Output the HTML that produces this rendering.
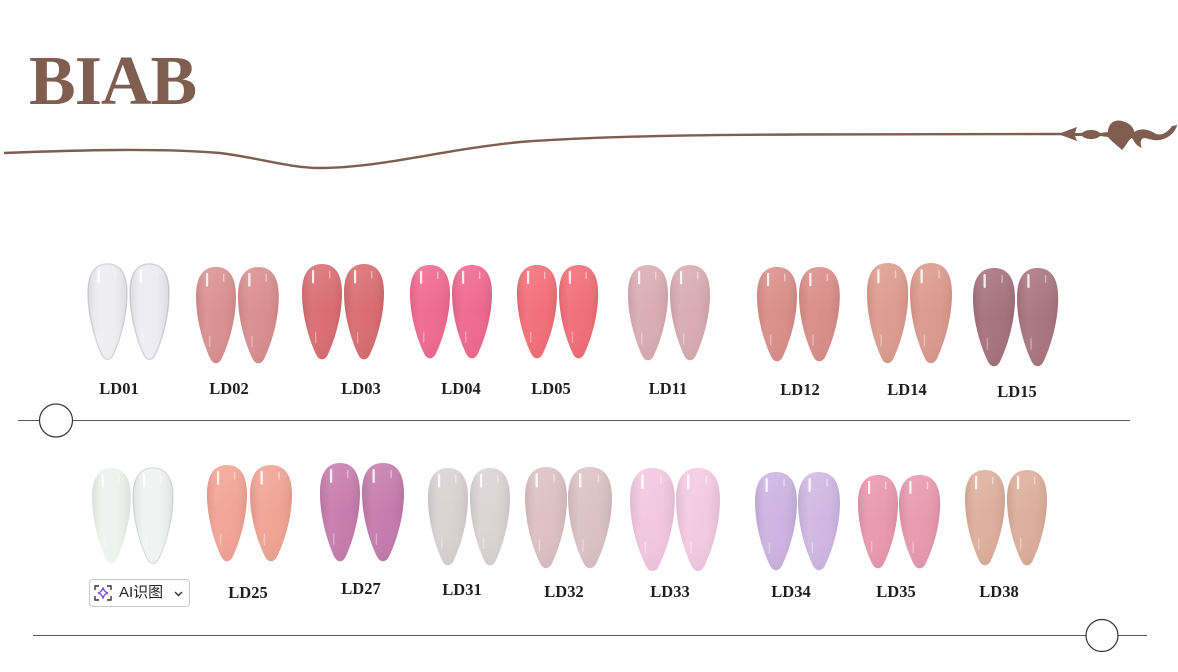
<!DOCTYPE html>
<html><head><meta charset="utf-8"><style>
html,body{margin:0;padding:0;background:#fff;}
body{width:1178px;height:672px;position:relative;overflow:hidden;}
svg{position:absolute;left:0;top:0;}
.btn{position:absolute;left:89px;top:579px;width:101px;height:28px;border:1px solid #c9c9c9;border-radius:4px;background:#fff;box-sizing:border-box;font-family:"Liberation Sans","Noto Sans CJK SC",sans-serif;font-size:15px;color:#222;}
.btn span{position:absolute;left:29px;top:4px;line-height:18px;}
</style></head><body>
<svg width="1178" height="672" viewBox="0 0 1178 672" xmlns="http://www.w3.org/2000/svg">
<defs>
<path id="np" d="M20,0 C33,0 40,10 40,30 C40,55 32,80 26,93 C23,100 17,100 14,93 C8,80 0,55 0,30 C0,10 7,0 20,0 Z"/>
<linearGradient id="sh" x1="0" y1="0" x2="1" y2="0">
<stop offset="0" stop-color="#000" stop-opacity="0.08"/>
<stop offset="0.25" stop-color="#fff" stop-opacity="0.06"/>
<stop offset="0.6" stop-color="#fff" stop-opacity="0.02"/>
<stop offset="1" stop-color="#000" stop-opacity="0.08"/>
</linearGradient>
<linearGradient id="sv" x1="0" y1="0" x2="0" y2="1">
<stop offset="0" stop-color="#fff" stop-opacity="0.10"/>
<stop offset="0.5" stop-color="#fff" stop-opacity="0"/>
<stop offset="1" stop-color="#000" stop-opacity="0.04"/>
</linearGradient>
<g id="hl">
<rect x="10" y="6" width="2.2" height="14" rx="1" fill="#fff" opacity="0.85"/>
<rect x="27" y="7" width="1.4" height="8" rx="0.7" fill="#fff" opacity="0.45"/>
<rect x="13" y="70" width="1.4" height="12" rx="0.7" fill="#fff" opacity="0.35"/>
</g>
</defs>

<text x="29" y="104" font-family="Liberation Serif, serif" font-weight="bold" font-size="70" fill="#7f5d4f" letter-spacing="-1">BIAB</text>

<path d="M4,153 C80,150 160,148 220,153 C260,158 290,168 320,168 C380,168 440,150 520,142 C600,136 700,135 800,134.5 L1062,134" fill="none" stroke="#7f5d4f" stroke-width="2.4"/>
<g fill="#7f5d4f">
<path d="M1058,134 L1077,127 L1075,133 L1082,133 C1086,129 1096,129 1100,133 L1108,132 C1108,124 1114,119 1122,121 C1130,123 1134,128 1134,132 C1142,127 1150,130 1156,134 C1162,136 1168,132 1172,126 L1177,125 C1176,131 1170,138 1160,140 C1152,141 1148,138 1144,138 C1140,139 1140,144 1142,148 C1136,146 1134,141 1132,138 C1128,140 1126,146 1122,150 C1118,146 1112,142 1108,137 L1100,136 C1096,140 1086,140 1082,136 L1075,136 L1077,141 Z"/>
</g>

<line x1="18" y1="420.5" x2="1130" y2="420.5" stroke="#5a5a5a" stroke-width="1"/>
<circle cx="56" cy="420.5" r="16.5" fill="#fff" stroke="#333" stroke-width="1.2"/>
<line x1="33" y1="635.5" x2="1147" y2="635.5" stroke="#5a5a5a" stroke-width="1"/>
<circle cx="1102" cy="635.5" r="16" fill="#fff" stroke="#333" stroke-width="1.2"/>

<g transform="translate(88,264) scale(0.975,0.97)"><use href="#np" fill="#eeeef1" stroke="#d6d6de" stroke-width="1.5"/><use href="#np" fill="url(#sh)"/><use href="#hl"/></g>
<g transform="translate(130,264) scale(0.975,0.97)"><use href="#np" fill="#ececf2" stroke="#d2d2dc" stroke-width="1.5"/><use href="#np" fill="url(#sh)"/><use href="#hl"/></g>

<g transform="translate(196,267) scale(1.0,0.98)"><use href="#np" fill="#da8e8e"/><use href="#np" fill="url(#sh)"/><use href="#np" fill="url(#sv)"/><use href="#hl"/></g>
<g transform="translate(238,267) scale(1.02,0.98)"><use href="#np" fill="#d98c8d"/><use href="#np" fill="url(#sh)"/><use href="#np" fill="url(#sv)"/><use href="#hl"/></g>

<g transform="translate(302,264) scale(1.0,0.97)"><use href="#np" fill="#d96b70"/><use href="#np" fill="url(#sh)"/><use href="#np" fill="url(#sv)"/><use href="#hl"/></g>
<g transform="translate(344,264) scale(1.0,0.97)"><use href="#np" fill="#d86a6f"/><use href="#np" fill="url(#sh)"/><use href="#np" fill="url(#sv)"/><use href="#hl"/></g>

<g transform="translate(410,265) scale(1.0,0.95)"><use href="#np" fill="#f0678e"/><use href="#np" fill="url(#sh)"/><use href="#np" fill="url(#sv)"/><use href="#hl"/></g>
<g transform="translate(452,265) scale(1.0,0.95)"><use href="#np" fill="#ef668d"/><use href="#np" fill="url(#sh)"/><use href="#np" fill="url(#sv)"/><use href="#hl"/></g>

<g transform="translate(517,265) scale(1.0,0.95)"><use href="#np" fill="#f36c76"/><use href="#np" fill="url(#sh)"/><use href="#np" fill="url(#sv)"/><use href="#hl"/></g>
<g transform="translate(559,265) scale(0.98,0.95)"><use href="#np" fill="#f26b75"/><use href="#np" fill="url(#sh)"/><use href="#np" fill="url(#sv)"/><use href="#hl"/></g>

<g transform="translate(628,265) scale(1.0,0.97)"><use href="#np" fill="#d9abb2"/><use href="#np" fill="url(#sh)"/><use href="#np" fill="url(#sv)"/><use href="#hl"/></g>
<g transform="translate(670,265) scale(1.0,0.97)"><use href="#np" fill="#d8aab1"/><use href="#np" fill="url(#sh)"/><use href="#np" fill="url(#sv)"/><use href="#hl"/></g>

<g transform="translate(757,267) scale(1.0,0.96)"><use href="#np" fill="#d98c88"/><use href="#np" fill="url(#sh)"/><use href="#np" fill="url(#sv)"/><use href="#hl"/></g>
<g transform="translate(799,267) scale(1.02,0.96)"><use href="#np" fill="#d98b87"/><use href="#np" fill="url(#sh)"/><use href="#np" fill="url(#sv)"/><use href="#hl"/></g>

<g transform="translate(867,263) scale(1.03,1.02)"><use href="#np" fill="#dc9a8c"/><use href="#np" fill="url(#sh)"/><use href="#np" fill="url(#sv)"/><use href="#hl"/></g>
<g transform="translate(910,263) scale(1.05,1.02)"><use href="#np" fill="#db988b"/><use href="#np" fill="url(#sh)"/><use href="#np" fill="url(#sv)"/><use href="#hl"/></g>

<g transform="translate(973,268) scale(1.05,1.0)"><use href="#np" fill="#a46f7b"/><use href="#np" fill="url(#sh)"/><use href="#np" fill="url(#sv)"/><use href="#hl"/></g>
<g transform="translate(1017,268) scale(1.03,1.0)"><use href="#np" fill="#a8727d"/><use href="#np" fill="url(#sh)"/><use href="#np" fill="url(#sv)"/><use href="#hl"/></g>

<g transform="translate(92,468) scale(0.97,0.97)"><use href="#np" fill="#eef2ef"/><use href="#np" fill="url(#sh)"/><use href="#hl"/></g>
<g transform="translate(133,468) scale(1.0,0.97)"><use href="#np" fill="#f0f3f2" stroke="#d8dcdc" stroke-width="1.2"/><use href="#np" fill="url(#sh)"/><use href="#hl"/></g>

<g transform="translate(207,465) scale(1.0,0.98)"><use href="#np" fill="#f2a393"/><use href="#np" fill="url(#sh)"/><use href="#np" fill="url(#sv)"/><use href="#hl"/></g>
<g transform="translate(250,465) scale(1.05,0.98)"><use href="#np" fill="#f1a291"/><use href="#np" fill="url(#sh)"/><use href="#np" fill="url(#sv)"/><use href="#hl"/></g>

<g transform="translate(320,463) scale(1.0,1.0)"><use href="#np" fill="#c67aae"/><use href="#np" fill="url(#sh)"/><use href="#np" fill="url(#sv)"/><use href="#hl"/></g>
<g transform="translate(362,463) scale(1.05,1.0)"><use href="#np" fill="#c479ad"/><use href="#np" fill="url(#sh)"/><use href="#np" fill="url(#sv)"/><use href="#hl"/></g>

<g transform="translate(428,468) scale(1.0,0.99)"><use href="#np" fill="#d9d0d2"/><use href="#np" fill="url(#sh)"/><use href="#np" fill="url(#sv)"/><use href="#hl"/></g>
<g transform="translate(470,468) scale(1.0,0.99)"><use href="#np" fill="#dbd2d4"/><use href="#np" fill="url(#sh)"/><use href="#np" fill="url(#sv)"/><use href="#hl"/></g>

<g transform="translate(525,467) scale(1.05,1.03)"><use href="#np" fill="#dcbfc3"/><use href="#np" fill="url(#sh)"/><use href="#np" fill="url(#sv)"/><use href="#hl"/></g>
<g transform="translate(568,467) scale(1.1,1.03)"><use href="#np" fill="#dbc0c4"/><use href="#np" fill="url(#sh)"/><use href="#np" fill="url(#sv)"/><use href="#hl"/></g>

<g transform="translate(630,468) scale(1.12,1.05)"><use href="#np" fill="#f2c6e0"/><use href="#np" fill="url(#sh)"/><use href="#np" fill="url(#sv)"/><use href="#hl"/></g>
<g transform="translate(676,468) scale(1.1,1.05)"><use href="#np" fill="#f3c9e2"/><use href="#np" fill="url(#sh)"/><use href="#np" fill="url(#sv)"/><use href="#hl"/></g>

<g transform="translate(755,472) scale(1.05,1.0)"><use href="#np" fill="#ccb2e2"/><use href="#np" fill="url(#sh)"/><use href="#np" fill="url(#sv)"/><use href="#hl"/></g>
<g transform="translate(798,472) scale(1.05,1.0)"><use href="#np" fill="#cfb6e3"/><use href="#np" fill="url(#sh)"/><use href="#np" fill="url(#sv)"/><use href="#hl"/></g>

<g transform="translate(858,475) scale(1.0,0.95)"><use href="#np" fill="#e996ae"/><use href="#np" fill="url(#sh)"/><use href="#np" fill="url(#sv)"/><use href="#hl"/></g>
<g transform="translate(899,475) scale(1.03,0.95)"><use href="#np" fill="#e897ae"/><use href="#np" fill="url(#sh)"/><use href="#np" fill="url(#sv)"/><use href="#hl"/></g>

<g transform="translate(965,470) scale(1.0,0.97)"><use href="#np" fill="#ddae9a"/><use href="#np" fill="url(#sh)"/><use href="#np" fill="url(#sv)"/><use href="#hl"/></g>
<g transform="translate(1007,470) scale(1.0,0.97)"><use href="#np" fill="#dcad99"/><use href="#np" fill="url(#sh)"/><use href="#np" fill="url(#sv)"/><use href="#hl"/></g>

<g font-family="Liberation Serif, serif" font-weight="bold" font-size="16.5" fill="#1e1e1e" text-anchor="middle">
<text x="119" y="394">LD01</text>
<text x="229" y="394">LD02</text>
<text x="361" y="394">LD03</text>
<text x="461" y="394">LD04</text>
<text x="551" y="394">LD05</text>
<text x="668" y="394">LD11</text>
<text x="800" y="395">LD12</text>
<text x="907" y="395">LD14</text>
<text x="1017" y="397">LD15</text>
<text x="248" y="598">LD25</text>
<text x="361" y="594">LD27</text>
<text x="462" y="595">LD31</text>
<text x="564" y="597">LD32</text>
<text x="670" y="597">LD33</text>
<text x="791" y="597">LD34</text>
<text x="896" y="597">LD35</text>
<text x="999" y="597">LD38</text>
</g>
</svg>
<div class="btn"><span>AI识图</span></div>
<svg width="1178" height="672" viewBox="0 0 1178 672" style="pointer-events:none">
<g transform="translate(95,585)" fill="none" stroke="#333" stroke-width="1.4">
<path d="M0,5 V1 H4"/><path d="M12,1 H16 V5"/><path d="M16,11 V15 H12"/><path d="M4,15 H0 V11"/>
</g>
<path d="M103,587.5 Q104,592 108,593 Q104,594 103,598.5 Q102,594 98,593 Q102,592 103,587.5 Z" fill="none" stroke="#7b4de8" stroke-width="1.4"/>
<path d="M175,592 L178.5,595.5 L182,592" fill="none" stroke="#333" stroke-width="1.4"/>
</svg>
</body></html>
